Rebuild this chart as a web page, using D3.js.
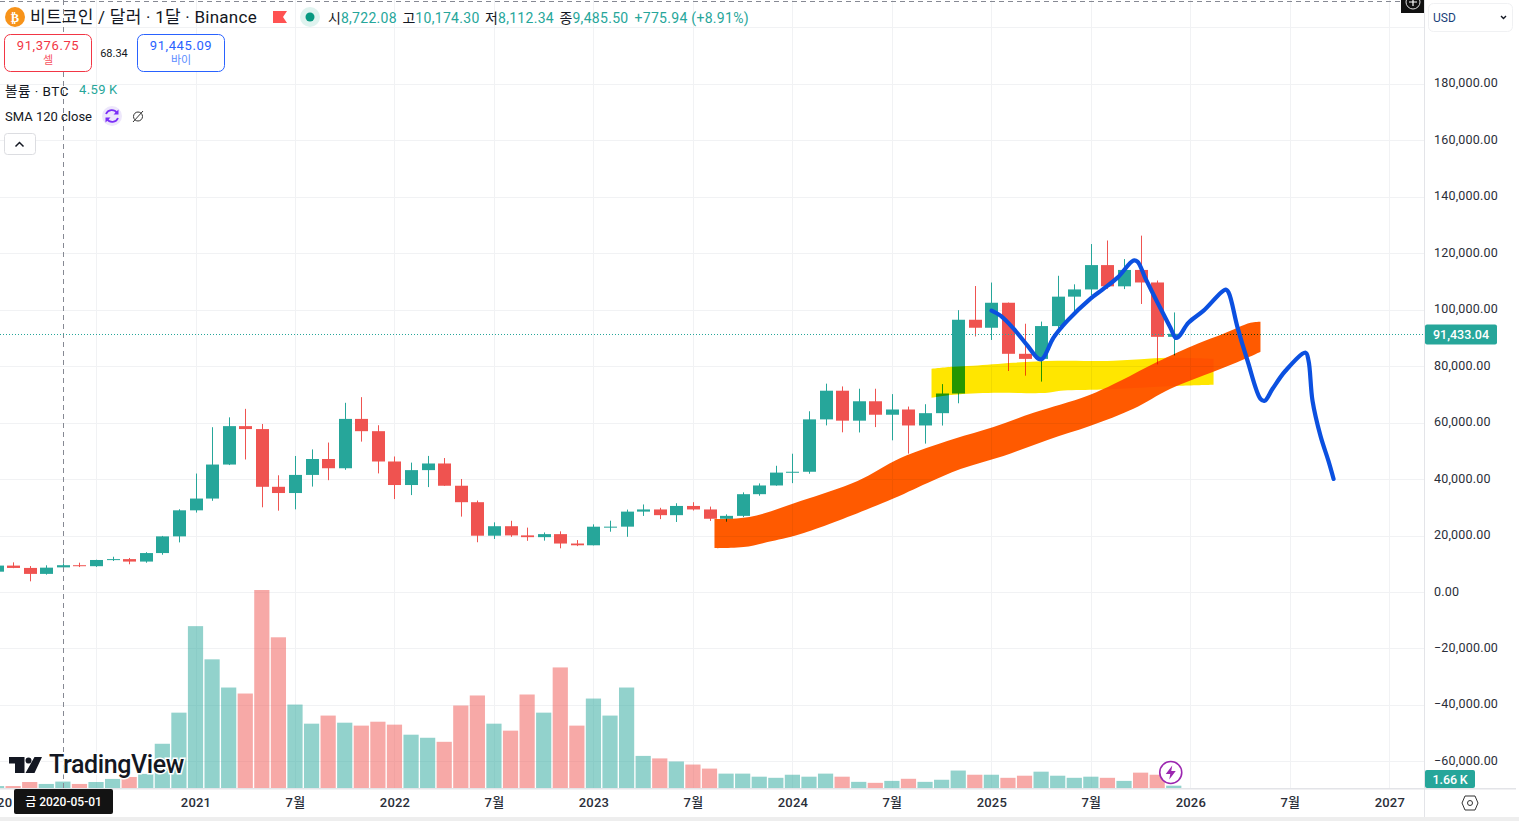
<!DOCTYPE html>
<html>
<head>
<meta charset="utf-8">
<script src="https://cdn.jsdelivr.net/npm/d3@7"></script>
<style>
html, body { margin: 0; padding: 0; background: #fff; overflow: hidden; }
svg { display: block; font-family: Roboto, "Noto Sans CJK KR", sans-serif; fill: #131722; }
.axis .domain, .axis line { display: none; }
.axis text { font-family: Roboto, "Noto Sans CJK KR", sans-serif; font-size: 12.5px; letter-spacing: 0.2px; fill: #2a2e39; }
</style>
</head>
<body>
<div id="chart"></div>
<script>
var totalWidth = 1519;
var totalHeight = 821;

// DATA - monthly bars, first one is 2020-01
var opens = [7195,9351,8523,6412,8722.08,9485.5,9138,11335,11649,10776,13791,19700,
  28923,33092,45134,58739,57697,37253,35045,41461,47100,43820,61299,56950,
  46216,37881,43160,45510,37630,31801,19942,23296,20048,19422,20490,17165,
  16541,23125,23141,28465,29233,27210,30472,29232,25940,26962,34639,37723,
  42283,42580,61130,71280,60672,67540,62772,64628,58974,63327,70292,96408,
  93576,102429,84350,82550,94172,104591,107146,115764,108246,114048,109608,90360];
var highs = [9578,10500,9188,9460,10174.3,10380,11444,12486,12050,14100,19863,29300,
  41950,58352,61844,64854,59500,41330,48168,50500,52920,67000,69000,59053,
  47990,45821,48190,47444,40023,32387,24668,25214,22799,21085,21480,18387,
  23960,25250,29184,31000,29820,31431,31804,30244,27500,35280,38450,44700,
  48970,64000,73777,72797,71979,71980,70079,65660,66498,73620,99800,108353,
  109588,102500,95000,95758,111980,108952,123218,124474,117900,126199,110300,99000];
var lows = [6850,8445,3782,6150,8112.34,8833,8893,11000,9825,10364,13195,17572,
  28130,32296,44950,46930,30000,28805,29278,37332,39600,43283,53256,42000,
  32917,34322,37155,37578,26700,17622,18781,19520,18125,18190,15476,16256,
  16499,21351,19549,26942,25811,24800,28861,25166,24901,26538,34097,37630,
  38555,41884,59005,56552,56500,58402,53717,49000,52550,58946,66835,90500,
  89256,78258,76606,74508,93377,98200,105100,107350,107270,102000,80600,83800];
var closes = [9352,8523,6410,8620,9485.5,9138,11335,11649,10776,13791,19700,28923,
  33092,45135,58740,57694,37253,35045,41461,47100,43824,61299,56950,46216,
  37881,43160,45510,37630,31801,19942,23293,20050,19423,20490,17164,16542,
  23125,23141,28465,29233,27210,30472,29232,25940,26962,34639,37723,42283,
  42580,61130,71280,60672,67540,62772,64628,58974,63327,70292,96408,93576,
  102429,84350,82550,94172,104591,107146,115764,108246,114048,109608,90360,91433.04];
// volume in thousands of BTC
var volumes = [1.4,1.4,4.3,2.9,4.59,2.9,4.3,6.5,7.9,10.1,31.7,54,
  116,92.2,72,67.7,141.9,108,59.8,46.1,51.9,46.8,44.7,47.5,
  45.4,38.2,36,33.1,59.1,66.3,46.1,41.1,67,54,86.4,44.7,
  64.1,51.9,72,23,21.2,19,16.8,13.9,10.3,10.3,8.1,7.3,
  9.5,8.1,10.3,8.1,4.4,3.7,5.1,6.6,4.4,5.9,12.5,9.5,
  9.5,7.3,8.8,11.7,8.8,7.3,8.1,7.3,5.1,11,9.5,1.66];

var priceTicks = [180000,160000,140000,120000,100000,80000,60000,40000,20000,0,-20000,-40000,-60000];
var gridOnlyPrices = [200000];
var timeTicks = [0,6,12,18,24,30,36,42,48,54,60,66,72,78,84];
var timeLabels = ["2020","7월","2021","7월","2022","7월","2023","7월","2024","7월","2025","7월","2026","7월","2027"];

var lastPrice = 91433.04;
var crosshairMonth = 4;
var crosshairText = "금 2020-05-01";
var zapMonth = 71;

// hand drawn stuff on the chart: [month index, price]
var yellowTop = [[56.39,79054],[57.66,79763],[58.92,80118],[61.34,81183],[63.99,81892],[67.37,81892],[70.62,82957],[73.4,82602]];
var yellowBottom = [[73.4,73377],[71.41,73022],[67.79,71957],[66.16,71603],[64.17,71248],[63.39,70538],[60.13,70538],[57.72,69829],[56.39,68763]];
var orangeTop = [[43.3,25831],[45.41,26540],[48.49,32218],[51.93,39314],[54.52,47475],[57.72,54216],[60.13,58474],[62.54,63442],
  [65.8,69474],[67.79,74796],[70.02,81538],[72.43,87924],[74,91473],[75.63,95376],[76.23,95730]];
var orangeBottom = [[76.23,85086],[75.45,82957],[74,79409],[70.8,71957],[68.57,64861],[65.98,58829],[63.39,53862],[60.73,48184],[58.14,43572],
  [56.15,38605],[53.74,32218],[48.49,20509],[46.5,17670],[45.05,15896],[43.66,15541],[43.3,15541]];
var blueLine = [[60.01,99634],[60.55,97860],[61.34,93247],[62.18,87215],[62.84,82602],[63.08,82602],[63.75,90053],[64.59,96085],
  [65.98,103891],[66.7,107085],[67.61,111342],[68.57,117375],[68.81,117020],[69.3,110988],[70.02,102472],[70.8,93602],[71.11,90053],
  [71.29,90408],[71.89,95376],[72.8,99634],[74.13,107085],[74.31,106020],[74.85,93602],[75.45,81892],[76.23,68409],[76.48,67700],
  [76.96,71957],[77.74,78344],[78.95,84731],[79.13,81892],[79.37,67700],[79.85,55281],[80.33,46410],[80.64,40024]];

var green = "#26a69a";
var red = "#ef5350";
var gridColor = "#f1f2f4";
var paneRight = 1424;
var paneBottom = 788;

// SCALES
var xScale = d3.scaleLinear().domain([0, 84]).range([-3.46, 1389.3]);
var yScale = d3.scaleLinear().domain([0, 180000]).range([592, 83.7]);
var volScale = d3.scaleLinear().domain([0, 141.9]).range([paneBottom, paneBottom - 198]);

var months = d3.range(closes.length);
function upColor(i) { return closes[i] >= opens[i] ? green : red; }

var svg = d3.select("#chart").append("svg")
  .attr("width", totalWidth)
  .attr("height", totalHeight);

svg.append("defs").append("clipPath").attr("id", "pane")
  .append("rect").attr("x", 0).attr("y", 0).attr("width", paneRight).attr("height", paneBottom);

var pane = svg.append("g").attr("clip-path", "url(#pane)").style("isolation", "isolate");

// GRID
pane.append("g").selectAll("line").data(priceTicks.concat(gridOnlyPrices)).enter().append("line")
  .attr("x1", 0).attr("x2", paneRight)
  .attr("y1", function(d) { return Math.round(yScale(d)) + 0.5; })
  .attr("y2", function(d) { return Math.round(yScale(d)) + 0.5; })
  .attr("stroke", gridColor);
pane.append("g").selectAll("line").data(timeTicks).enter().append("line")
  .attr("y1", 0).attr("y2", paneBottom)
  .attr("x1", function(d) { return Math.round(xScale(d)) + 0.5; })
  .attr("x2", function(d) { return Math.round(xScale(d)) + 0.5; })
  .attr("stroke", gridColor);

// VOLUME
pane.append("g").selectAll("rect").data(months).enter().append("rect")
  .attr("x", function(i) { return xScale(i) - 7.6; })
  .attr("width", 15.2)
  .attr("y", function(i) { return volScale(volumes[i]); })
  .attr("height", function(i) { return paneBottom - volScale(volumes[i]); })
  .attr("fill", upColor)
  .attr("fill-opacity", 0.5);

// CANDLES
var candles = pane.append("g").selectAll("g").data(months).enter().append("g");
candles.append("rect")
  .attr("x", function(i) { return Math.round(xScale(i)); })
  .attr("width", 1)
  .attr("y", function(i) { return yScale(highs[i]); })
  .attr("height", function(i) { return yScale(lows[i]) - yScale(highs[i]); })
  .attr("fill", upColor);
candles.append("rect")
  .attr("x", function(i) { return Math.round(xScale(i)) - 6; })
  .attr("width", 13)
  .attr("y", function(i) { return yScale(Math.max(opens[i], closes[i])); })
  .attr("height", function(i) { return Math.max(1, Math.abs(yScale(opens[i]) - yScale(closes[i]))); })
  .attr("fill", upColor);

// CROSSHAIR + LAST PRICE LINE
pane.append("line")
  .attr("x1", Math.round(xScale(crosshairMonth)) + 0.5).attr("x2", Math.round(xScale(crosshairMonth)) + 0.5)
  .attr("y1", 0).attr("y2", paneBottom)
  .attr("stroke", "#868993").attr("stroke-dasharray", "5,4");
pane.append("line")
  .attr("x1", 0).attr("x2", paneRight)
  .attr("y1", Math.round(yScale(lastPrice)) + 0.5).attr("y2", Math.round(yScale(lastPrice)) + 0.5)
  .attr("stroke", green).attr("stroke-dasharray", "1,2");

// BRUSH MARKS
var brushLine = d3.line()
  .x(function(d) { return xScale(d[0]); })
  .y(function(d) { return yScale(d[1]); })
  .curve(d3.curveCatmullRom.alpha(0.5));

function brushBand(top, bottom) {
  return brushLine(top) + "L" + brushLine(bottom).slice(1) + "Z";
}

pane.append("path").attr("d", brushBand(yellowTop, yellowBottom))
  .attr("fill", "#ffe600").style("mix-blend-mode", "multiply");
pane.append("path").attr("d", brushBand(orangeTop, orangeBottom))
  .attr("fill", "#ff5a00").style("mix-blend-mode", "multiply");
pane.append("path").attr("d", brushLine(blueLine))
  .attr("fill", "none").attr("stroke", "#0b50e0").attr("stroke-width", 4.2)
  .attr("stroke-linejoin", "round").attr("stroke-linecap", "round");

// LOGO
var logo = svg.append("g");
logo.append("path")
  .attr("d", "M9 757H24.5V773H15V763.5H9Z M31.5 760.5a3 3 0 1 1 -6 0a3 3 0 1 1 6 0Z M34.5 757H42L34.5 773H25.5Z")
  .attr("fill", "#131722").attr("stroke", "#fff").attr("stroke-width", 1.5).attr("paint-order", "stroke");
logo.append("text").attr("x", 49).attr("y", 773)
  .attr("font-size", 25).attr("font-weight", 500).attr("letter-spacing", -0.4)
  .attr("stroke", "#fff").attr("stroke-width", 3).attr("paint-order", "stroke")
  .text("TradingView");

// ZAP BADGE
var zap = svg.append("g").attr("transform", "translate(" + (xScale(zapMonth) - 3) + ",772.5)");
zap.append("circle").attr("r", 11).attr("fill", "#fff").attr("stroke", "#9c27b0").attr("stroke-width", 1.6);
zap.append("path").attr("d", "M1.5 -7L-5 1.5H-0.5L-1.5 7L5 -1.5H0.5Z").attr("fill", "#9c27b0");

// PANEL LINES
svg.append("rect").attr("x", paneRight).attr("y", 0).attr("width", 1).attr("height", 817).attr("fill", "#e3e4e8");
svg.append("rect").attr("x", 0).attr("y", paneBottom).attr("width", totalWidth - 3).attr("height", 1.5).attr("fill", "#e3e4e8");
svg.append("rect").attr("x", 0).attr("y", 817).attr("width", totalWidth).attr("height", 4).attr("fill", "#eeeeee");
svg.append("line").attr("x1", 0).attr("x2", 1400).attr("y1", 1.5).attr("y2", 1.5)
  .attr("stroke", "#868993").attr("stroke-dasharray", "5,4");

// AXES
var yAxis = d3.axisRight(yScale)
  .tickValues(priceTicks)
  .tickFormat(d3.format(",.2f"))
  .tickSize(0)
  .tickPadding(0);
svg.append("g").attr("class", "axis").attr("transform", "translate(1434,-1)").call(yAxis);

var xAxis = d3.axisBottom(xScale)
  .tickValues(timeTicks)
  .tickFormat(function(d, i) { return timeLabels[i]; })
  .tickSize(0)
  .tickPadding(0);
svg.append("g").attr("class", "axis").attr("transform", "translate(0,798)").call(xAxis)
  .selectAll("text").attr("font-weight", 500).style("font-size", "13px");

// AXIS TAGS
var tagY = Math.round(yScale(lastPrice)) + 0.5;
svg.append("rect").attr("x", 1425).attr("y", tagY - 10).attr("width", 72).attr("height", 20).attr("rx", 2).attr("fill", green);
svg.append("text").attr("x", 1461).attr("y", tagY + 4.5).attr("text-anchor", "middle")
  .attr("font-size", 12.5).attr("font-weight", 500).attr("fill", "#fff").text(d3.format(",.2f")(lastPrice));
svg.append("rect").attr("x", 1425).attr("y", 770).attr("width", 50).attr("height", 18).attr("rx", 2).attr("fill", green);
svg.append("text").attr("x", 1450).attr("y", 783.5).attr("text-anchor", "middle")
  .attr("font-size", 12.5).attr("font-weight", 500).attr("fill", "#fff").text(d3.format(".2f")(volumes[volumes.length - 1]) + "\u2009K");

svg.append("rect").attr("x", 14).attr("y", 789).attr("width", 99).attr("height", 25).attr("rx", 2).attr("fill", "#131313");
svg.append("text").attr("x", 63.5).attr("y", 806).attr("text-anchor", "middle")
  .attr("font-size", 12).attr("font-weight", 500).attr("fill", "#fff").text(crosshairText);

// HEADER
svg.append("circle").attr("cx", 15).attr("cy", 17).attr("r", 10).attr("fill", "#f7931a");
svg.append("text").attr("x", 15).attr("y", 21.5).attr("text-anchor", "middle").attr("font-size", 12.5).attr("font-weight", 700)
  .attr("fill", "#fff").style("font-family", "'DejaVu Sans'").text("₿");
svg.append("text").attr("x", 30).attr("y", 23).attr("font-size", 17).attr("letter-spacing", 0.25)
  .text("비트코인 / 달러 · 1달 · Binance");
svg.append("path").attr("d", "M273 11H287L283 17L287 23H273Z").attr("fill", "#ff5252");
svg.append("circle").attr("cx", 310).attr("cy", 17).attr("r", 10).attr("fill", "#dff3ef");
svg.append("circle").attr("cx", 310).attr("cy", 17).attr("r", 4.5).attr("fill", "#089981");

var ohlc = svg.append("text").attr("x", 328).attr("y", 22.5).attr("font-size", 14);
[["시","8,722.08"],["고","10,174.30"],["저","8,112.34"],["종","9,485.50"]].forEach(function(p, i) {
  ohlc.append("tspan").attr("dx", i ? 5.5 : 0).attr("fill", "#131722").text(p[0]);
  ohlc.append("tspan").attr("fill", green).attr("letter-spacing", 0.3).text(p[1]);
});
ohlc.append("tspan").attr("dx", 6).attr("fill", green).attr("letter-spacing", 0.3).text("+775.94 (+8.91%)");

// SELL / BUY
svg.append("rect").attr("x", 4.5).attr("y", 34.5).attr("width", 87).attr("height", 37).attr("rx", 6)
  .attr("fill", "#fff").attr("stroke", "#f23645");
svg.append("text").attr("x", 48).attr("y", 50).attr("text-anchor", "middle").attr("font-size", 13)
  .attr("fill", "#f23645").attr("letter-spacing", 0.6).text("91,376.75");
svg.append("text").attr("x", 48).attr("y", 64).attr("text-anchor", "middle").attr("font-size", 11)
  .attr("fill", "#f7525f").text("셀");
svg.append("text").attr("x", 114).attr("y", 57).attr("text-anchor", "middle").attr("font-size", 11).text("68.34");
svg.append("rect").attr("x", 137.5).attr("y", 34.5).attr("width", 87).attr("height", 37).attr("rx", 6)
  .attr("fill", "#fff").attr("stroke", "#2962ff");
svg.append("text").attr("x", 181).attr("y", 50).attr("text-anchor", "middle").attr("font-size", 13)
  .attr("fill", "#2962ff").attr("letter-spacing", 0.6).text("91,445.09");
svg.append("text").attr("x", 181).attr("y", 64).attr("text-anchor", "middle").attr("font-size", 11)
  .attr("fill", "#5b8cff").text("바이");

// LEGEND ROWS
svg.append("text").attr("x", 5).attr("y", 95.5).attr("font-size", 13.5).attr("letter-spacing", 0.5).text("볼륨 · BTC");
svg.append("text").attr("x", 79).attr("y", 94).attr("font-size", 13).attr("fill", green).attr("letter-spacing", 0.4).text("4.59\u2009K");
svg.append("text").attr("x", 5).attr("y", 121).attr("font-size", 13).text("SMA 120 close");
svg.append("circle").attr("cx", 112).attr("cy", 116).attr("r", 10).attr("fill", "#ede7fb");
svg.append("path").attr("d", "M106 114a6.2 6.2 0 0 1 11 -1 M118 118a6.2 6.2 0 0 1 -11 1")
  .attr("fill", "none").attr("stroke", "#7b2ff7").attr("stroke-width", 1.8);
svg.append("path").attr("d", "M118.5 109.5V114.5H113.5Z M105.5 122.5V117.5H110.5Z").attr("fill", "#7b2ff7");
svg.append("circle").attr("cx", 138).attr("cy", 116.5).attr("r", 4.5).attr("fill", "none").attr("stroke", "#333");
svg.append("line").attr("x1", 133).attr("x2", 143).attr("y1", 122).attr("y2", 111).attr("stroke", "#333");
svg.append("rect").attr("x", 4.5).attr("y", 133.5).attr("width", 31).attr("height", 21).attr("rx", 3)
  .attr("fill", "#fff").attr("stroke", "#dcdde1");
svg.append("path").attr("d", "M15.5 146.5L19.5 142.5L23.5 146.5").attr("fill", "none").attr("stroke", "#131722").attr("stroke-width", 1.5);

// TOP RIGHT
svg.append("rect").attr("x", 1401).attr("y", 0).attr("width", 23).attr("height", 13).attr("fill", "#111");
svg.append("circle").attr("cx", 1413).attr("cy", 2).attr("r", 7).attr("fill", "none").attr("stroke", "#ddd");
svg.append("path").attr("d", "M1413 -2V6M1409 2H1417").attr("stroke", "#fff").attr("stroke-width", 1.2);
svg.append("rect").attr("x", 1428.5).attr("y", 3.5).attr("width", 84).attr("height", 28).attr("rx", 5)
  .attr("fill", "#fff").attr("stroke", "#f0f1f3");
svg.append("text").attr("x", 1433).attr("y", 22).attr("font-size", 12).attr("fill", "#1a3f7a").text("USD");
svg.append("path").attr("d", "M1501 16L1503.5 18.5L1506 16").attr("fill", "none").attr("stroke", "#131722").attr("stroke-width", 1.4);

// SETTINGS ICON
svg.append("path").attr("d", "M1465 796H1475L1478 803L1475 810H1465L1462 803Z").attr("fill", "none").attr("stroke", "#333");
svg.append("circle").attr("cx", 1470).attr("cy", 803).attr("r", 2.5).attr("fill", "none").attr("stroke", "#333");
</script>
</body>
</html>
